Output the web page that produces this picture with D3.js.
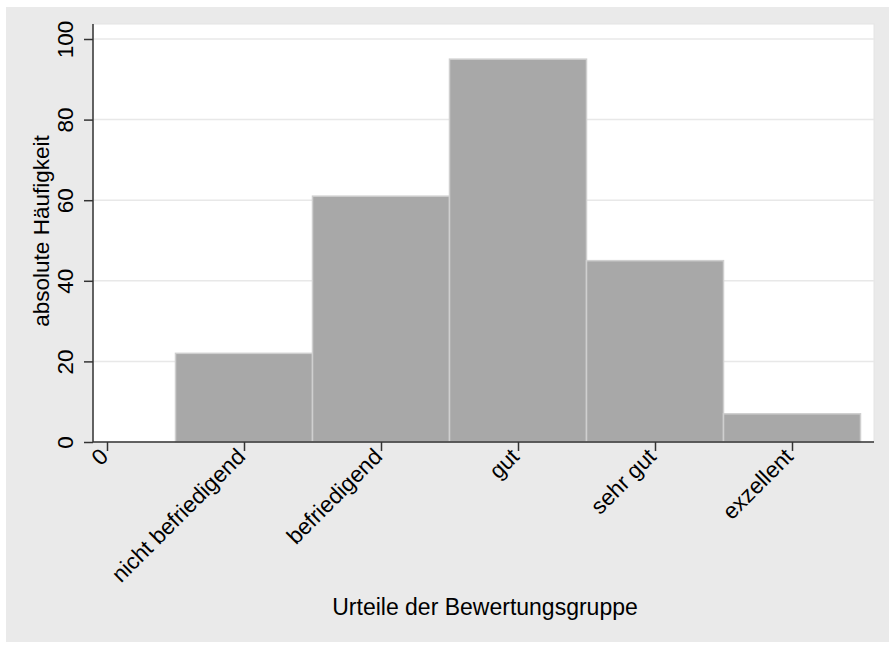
<!DOCTYPE html>
<html>
<head>
<meta charset="utf-8">
<script src="https://cdn.jsdelivr.net/npm/d3@7"></script>
<style>
	body { margin: 0; background: #fff; }
	text { font-family: "Liberation Sans", Arial, sans-serif; fill: #000; }
</style>
</head>
<body>
<div id="graph"></div>
<script>
// categories and counts
var categories = ["0", "nicht befriedigend", "befriedigend", "gut", "sehr gut", "exzellent"];
var counts = [0, 22, 61, 95, 45, 7];
var yTicks = [0, 20, 40, 60, 80, 100];

var width = 889, height = 645;
var plot = {left: 93, right: 874, top: 24, bottom: 442};

var graph = d3.select("div#graph")
	.append("svg")
	.attr("width", width)
	.attr("height", height);

// outer grey panel
graph.append("rect")
	.attr("x", 6).attr("y", 7)
	.attr("width", width - 6).attr("height", 635)
	.attr("fill", "#eaeaea");

// white plot region
graph.append("rect")
	.attr("x", plot.left).attr("y", plot.top)
	.attr("width", plot.right - plot.left).attr("height", plot.bottom - plot.top)
	.attr("fill", "#fff")
	.attr("stroke", "#e4e4e4");

var xScale = d3.scaleLinear()
	.domain([0, categories.length - 1])
	.range([107, 792]);

var yScale = d3.scaleLinear()
	.domain([0, 100])
	.range([plot.bottom, 39]);

// gridlines
graph.append("g")
	.selectAll("line")
	.data(yTicks.filter(d => d > 0))
	.enter().append("line")
	.attr("x1", plot.left).attr("x2", plot.right)
	.attr("y1", d => yScale(d)).attr("y2", d => yScale(d))
	.attr("stroke", "#e8e8e8")
	.attr("stroke-width", 1.5);

// bars (each category spans +/- half a unit)
graph.append("g")
	.selectAll("rect")
	.data(counts)
	.enter().append("rect")
	.attr("x", (d, i) => xScale(i - 0.5))
	.attr("width", (d, i) => xScale(i + 0.5) - xScale(i - 0.5))
	.attr("y", d => yScale(d))
	.attr("height", d => yScale(0) - yScale(d))
	.attr("fill", d => d > 0 ? "#a8a8a8" : "none")
	.attr("stroke", d => d > 0 ? "#cfcfcf" : "none")
	.attr("stroke-width", 1.5);

var yAxis = d3.axisLeft(yScale)
	.tickValues(yTicks)
	.tickSize(9);

var yG = graph.append("g")
	.attr("transform", `translate(${plot.left}, 0)`)
	.call(yAxis);
yG.select(".domain").remove();
yG.append("line")
	.attr("x1", 0).attr("x2", 0)
	.attr("y1", plot.top).attr("y2", plot.bottom)
	.attr("stroke", "#333").attr("stroke-width", 1.5);
yG.selectAll(".tick line").attr("stroke", "#333").attr("stroke-width", 1.5);
yG.selectAll(".tick text")
	.attr("font-size", 22.5)
	.attr("fill", "#000")
	.attr("x", 0).attr("y", 0).attr("dy", 0)
	.style("text-anchor", "middle")
	.attr("transform", "translate(-20,0) rotate(-90)");

var xAxis = d3.axisBottom(xScale)
	.tickValues(d3.range(categories.length))
	.tickFormat(i => categories[i])
	.tickSize(9);

var xG = graph.append("g")
	.attr("transform", `translate(0, ${plot.bottom})`)
	.call(xAxis);
xG.select(".domain").remove();
xG.append("line")
	.attr("x1", plot.left).attr("x2", plot.right)
	.attr("y1", 0).attr("y2", 0)
	.attr("stroke", "#333").attr("stroke-width", 1.5);
xG.selectAll(".tick line").attr("stroke", "#333").attr("stroke-width", 1.5);
xG.selectAll(".tick text")
	.attr("font-size", 22.5)
	.attr("fill", "#000")
	.style("text-anchor", "end")
	.attr("x", 0).attr("y", 0).attr("dy", 0)
	.attr("transform", "translate(2,16) rotate(-45)");  // rotate the axis labels

// axis titles
graph.append("text")
	.attr("transform", "rotate(-90)")
	.attr("x", -231)
	.attr("y", 49)
	.attr("font-size", 22.5)
	.style("text-anchor", "middle")
	.text("absolute Häufigkeit");

graph.append("text")
	.attr("x", 485)
	.attr("y", 615)
	.attr("font-size", 23)
	.style("text-anchor", "middle")
	.text("Urteile der Bewertungsgruppe");
</script>
</body>
</html>
